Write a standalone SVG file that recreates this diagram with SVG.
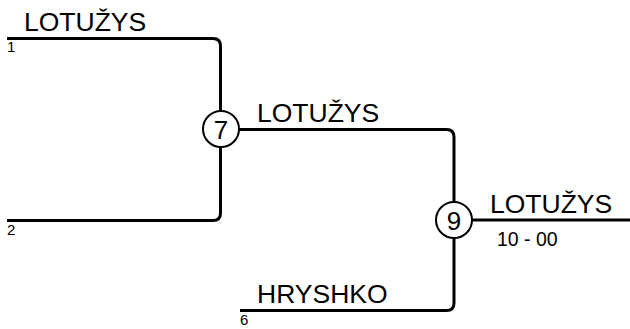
<svg xmlns="http://www.w3.org/2000/svg" width="630" height="329" viewBox="0 0 630 329">
<style>
.ln{fill:none;stroke:#000;stroke-width:3}
.nd{fill:#fff;stroke:#000;stroke-width:2}
.nm{font-family:"Liberation Sans",Arial,sans-serif;font-size:26.5px;fill:#000}
.seed{font-family:"Liberation Sans",Arial,sans-serif;font-size:15px;fill:#000}
.sc{font-family:"Liberation Sans",Arial,sans-serif;font-size:19.5px;fill:#000}
.num{font-family:"Liberation Sans",Arial,sans-serif;font-size:26px;fill:#000;text-anchor:middle}
</style>
<rect width="630" height="329" fill="#fff"/>
<g id="connectors">
<path class="ln" d="M7,38.5 H213 Q220.5,38.5 220.5,46 V111"/>
<path class="ln" d="M7,220.5 H213 Q220.5,220.5 220.5,213 V147"/>
<path class="ln" d="M239,129.5 H446.5 Q454,129.5 454,137 V202"/>
<path class="ln" d="M472,220 H630"/>
<path class="ln" d="M240,310.5 H446.5 Q454,310.5 454,303 V238"/>
</g>
<g id="entry1">
<text class="nm" x="24" y="31">LOTUŽYS</text>
<text class="seed" x="7" y="52">1</text>
</g>
<g id="entry2">
<text class="seed" x="7" y="235">2</text>
</g>
<g id="entry6">
<text class="nm" x="257" y="303">HRYSHKO</text>
<text class="seed" x="240" y="325">6</text>
</g>
<g id="node7">
<circle class="nd" cx="221" cy="129" r="18"/>
<text class="num" x="221" y="138.5">7</text>
<text class="nm" x="257" y="122">LOTUŽYS</text>
</g>
<g id="node9">
<circle class="nd" cx="454" cy="220" r="18"/>
<text class="num" x="454" y="229.5">9</text>
<text class="nm" x="490" y="213">LOTUŽYS</text>
<text class="sc" x="497" y="246">10 - 00</text>
</g>
</svg>
